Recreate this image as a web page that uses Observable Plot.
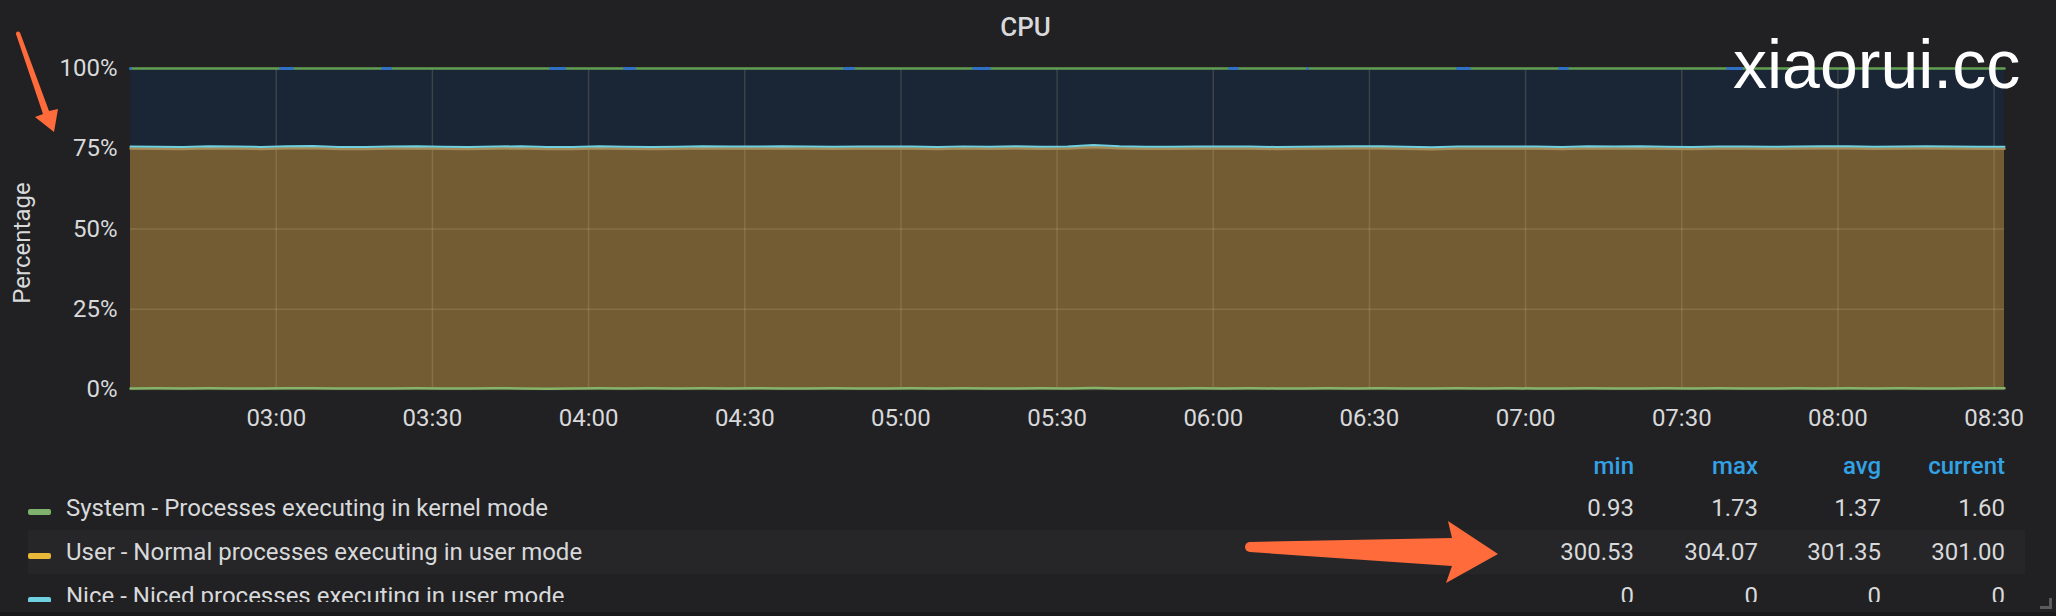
<!DOCTYPE html>
<html><head><meta charset="utf-8">
<script src="https://cdn.jsdelivr.net/npm/d3@7"></script>
<script src="https://cdn.jsdelivr.net/npm/@observablehq/plot@0.6"></script>
<style>
html,body{margin:0;padding:0;background:#212124;}
#page{position:relative;width:2056px;height:616px;overflow:hidden;background:#212124;font-family:Roboto,sans-serif;color:#d8d9da;}
#title{position:absolute;left:0;top:0;width:2051px;height:54px;line-height:54px;text-align:center;font-size:26px;font-weight:500;color:#d8d9da;}
#chart{position:absolute;left:0;top:0;}
#overlay{position:absolute;left:0;top:0;pointer-events:none;}
#legend{position:absolute;left:28px;top:444px;width:1997px;height:158px;overflow:hidden;font-size:24px;}
.row{position:relative;height:44px;line-height:44px;white-space:nowrap;}
.hdr{height:42px;line-height:44px;color:#33a2e5;font-weight:500;}
.alt{background:#262629;}
.sw{position:absolute;left:0;top:23px;width:23px;height:6px;border-radius:2px;}
.name{position:absolute;left:38px;top:0;}
.stat{position:absolute;top:0;text-align:right;}
#bottom{position:absolute;left:0;top:612px;width:2056px;height:4px;background:#18181a;}
#corner{position:absolute;left:2040px;top:598px;width:9px;height:8px;border-right:3px solid #5b5b5e;border-bottom:3px solid #5b5b5e;}
</style></head>
<body><div id="page">
<div id="chart"></div>
<div id="title"></div>
<div id="legend"></div>
<div id="corner"></div>
<div id="bottom"></div>
<svg id="overlay" width="2056" height="616"></svg>
</div>
<script>
// ---- data ----
const chartTitle = "CPU";
const yLabel = "Percentage";
const watermark = "xiaorui.cc";
const sampleStart = "02:32";   // first sample time
const sampleStepMinutes = 5;   // sampling interval
const domainStart = "02:32";
const domainEnd = "08:32";
const xTickLabels = ["03:00","03:30","04:00","04:30","05:00","05:30","06:00","06:30","07:00","07:30","08:00","08:30"];
const yTickValues = [0, 0.25, 0.5, 0.75, 1];

const seriesNames = ["System","User","Nice","Idle","Iowait"];

const systemRaw = [
1.35,1.42,1.28,1.51,1.37,1.19,1.44,1.62,1.30,1.25,
1.40,1.55,1.33,1.21,1.47,1.38,0.93,1.29,1.52,1.36,
1.41,1.27,1.58,1.34,1.45,1.31,1.22,1.49,1.39,1.26,
1.43,1.35,1.56,1.30,1.24,1.48,1.37,1.73,1.40,1.28,
1.33,1.46,1.21,1.52,1.38,1.27,1.44,1.35,1.60,1.29,
1.18,1.41,1.36,1.50,1.32,1.25,1.47,1.39,1.30,1.43,
1.34,1.55,1.28,1.37,1.42,1.20,1.46,1.33,1.51,1.38,
1.31,1.45,1.60];
const userRaw = [
301.4,301.2,300.9,301.6,301.3,301.1,301.5,301.8,301.0,300.8,
301.3,301.6,301.2,300.9,301.4,301.7,301.3,301.0,301.5,301.2,
300.7,301.1,301.6,301.4,301.2,301.8,301.5,301.0,301.3,301.6,
301.2,300.9,301.4,301.3,301.7,301.1,301.5,304.07,301.6,301.2,
301.0,301.4,301.7,301.3,300.9,301.2,301.5,301.8,301.4,301.1,
300.53,301.3,301.6,301.2,301.4,301.0,301.5,301.3,301.7,301.2,
300.9,301.4,301.6,301.1,301.3,301.8,301.5,301.0,301.2,301.6,
301.4,301.1,301.00];
const niceRaw = [
0,0,0,0,0,0,0,0,0,0, 0,0,0,0,0,0,0,0,0,0,
0,0,0,0,0,0,0,0,0,0, 0,0,0,0,0,0,0,0,0,0,
0,0,0,0,0,0,0,0,0,0, 0,0,0,0,0,0,0,0,0,0,
0,0,0,0,0,0,0,0,0,0, 0,0,0];
const idleRaw = [
97.2,97.3,97.7,96.9,97.3,97.6,97.0,96.6,97.6,97.9,
97.2,96.8,97.4,97.8,97.1,96.9,97.7,97.7,96.9,97.4,
97.8,97.6,96.8,97.2,97.3,96.8,97.2,97.5,97.3,97.1,
97.3,97.7,97.0,97.3,96.9,97.4,97.1,95.6,96.9,97.5,
97.6,97.1,97.0,97.3,97.7,97.5,97.0,96.8,97.0,97.6,
98.2,97.2,97.0,97.2,97.2,97.7,97.0,97.3,97.0,97.4,
97.7,97.0,97.1,97.5,97.2,97.0,97.0,97.6,97.2,97.0,
97.2,97.4,97.3];
const iowaitRaw = [
0.04,0.05,0.03,0.06,0.04,0.05,0.03,0.04,0.06,0.05,
0.04,0.03,0.05,0.04,0.06,0.05,0.04,0.03,0.05,0.04,
0.06,0.04,0.05,0.03,0.04,0.05,0.06,0.04,0.05,0.03,
0.04,0.05,0.04,0.06,0.03,0.05,0.04,0.05,0.04,0.06,
0.05,0.03,0.04,0.05,0.04,0.06,0.05,0.04,0.03,0.05,
0.04,0.06,0.05,0.04,0.03,0.05,0.04,0.06,0.04,0.05,
0.03,0.04,0.05,0.06,0.04,0.05,0.03,0.04,0.05,0.04,
0.06,0.05,0.04];

const legendNames = [
  "System - Processes executing in kernel mode",
  "User - Normal processes executing in user mode",
  "Nice - Niced processes executing in user mode"];
const legendColors = ["#7eb26d","#eab839","#6ed0e0"];
const statHeaders = ["min","max","avg","current"];
const statsSystem = ["0.93","1.73","1.37","1.60"];
const statsUser = ["300.53","304.07","301.35","301.00"];
const statsNice = ["0","0","0","0"];

// ---- build ----
const toDate = s => { const [h, m] = s.split(":").map(Number); return new Date(Date.UTC(2018, 0, 1, h, m)); };
const t0 = toDate(sampleStart);
const times = systemRaw.map((_, i) => new Date(+t0 + i * sampleStepMinutes * 60000));
const rawBySeries = {System: systemRaw, User: userRaw, Nice: niceRaw, Idle: idleRaw, Iowait: iowaitRaw};
const data = [];
for (const s of seriesNames) rawBySeries[s].forEach((v, i) => data.push({time: times[i], series: s, value: v}));

const areaFill = {System: "#5f7f48", User: "#735c34", Nice: "#4e8f99", Idle: "#1a2536", Iowait: "#1a2536"};
const lineStroke = {System: "#86b56a", User: "#a48d5a", Nice: "#6ed0e0", Idle: "#1f78c1", Iowait: "#629e51"};
const lineWidth = {System: 2.5, User: 2, Nice: 2, Idle: 2, Iowait: 2.5};
const lineShow = {System: 1, User: 0, Nice: 1, Idle: 0, Iowait: 1};

const stackOpts = {offset: "normalize", order: seriesNames};
const xTicks = xTickLabels.map(toDate);

const chart = Plot.plot({
  width: 2056, height: 440,
  marginLeft: 130, marginRight: 52, marginTop: 68, marginBottom: 51,
  style: {background: "none", color: "#d8d9da", fontFamily: "Roboto, sans-serif", fontSize: "24px"},
  x: {type: "utc", domain: [toDate(domainStart), toDate(domainEnd)]},
  y: {domain: [0, 1]},
  marks: [
    Plot.areaY(data, Plot.stackY({...stackOpts, x: "time", y: "value", z: "series", fill: d => areaFill[d.series]})),
    Plot.ruleX(xTicks, {stroke: "#d8c79a", strokeOpacity: 0.18, strokeWidth: 1.5}),
    Plot.ruleY(yTickValues, {stroke: "#d8c79a", strokeOpacity: 0.18, strokeWidth: 1.5}),
    Plot.lineY(data, Plot.stackY2({...stackOpts, x: "time", y: "value", z: "series", stroke: "#a48d5a", strokeWidth: 2.5, dy: 2,
      strokeOpacity: d => d.series === "User" ? 1 : 0})),
    Plot.lineY(data, Plot.stackY2({...stackOpts, x: "time", y: "value", z: "series",
      stroke: d => lineStroke[d.series], strokeWidth: d => lineWidth[d.series], strokeOpacity: d => lineShow[d.series]})),
    Plot.lineY(data, Plot.stackY2({...stackOpts, x: "time", y: "value", z: "series", stroke: "#2f6fc4", strokeWidth: 3,
      strokeDasharray: "0 150 12 90 8 160 14 60 10 210 9 120 16 240 8 70",
      strokeOpacity: d => d.series === "Idle" ? 1 : 0})),
    Plot.axisX(xTicks, {tickSize: 0, tickPadding: 19, tickFormat: d3.utcFormat("%H:%M"), label: null}),
    Plot.axisY(yTickValues, {tickSize: 0, tickPadding: 13, tickFormat: d => Math.round(d * 100) + "%", label: null}),
    Plot.text([yLabel], {text: d => d, frameAnchor: "left", rotate: -90, dx: -108, dy: 14,
      textAnchor: "middle", lineAnchor: "middle", fill: "#d8d9da", fontSize: 24})
  ]
});
document.getElementById("chart").append(chart);
document.getElementById("title").textContent = chartTitle;

// legend
const legend = document.getElementById("legend");
const statRight = [391, 267, 144, 20];
function addRow(cls, color, name, stats) {
  const row = document.createElement("div");
  row.className = "row " + cls;
  if (color) { const sw = document.createElement("div"); sw.className = "sw"; sw.style.background = color; row.append(sw); }
  if (name) { const n = document.createElement("div"); n.className = "name"; n.textContent = name; row.append(n); }
  stats.forEach((s, i) => {
    const e = document.createElement("div"); e.className = "stat"; e.style.right = statRight[i] + "px"; e.textContent = s; row.append(e);
  });
  legend.append(row);
}
addRow("hdr", null, null, statHeaders);
addRow("", legendColors[0], legendNames[0], statsSystem);
addRow("alt", legendColors[1], legendNames[1], statsUser);
addRow("", legendColors[2], legendNames[2], statsNice);

// overlay: watermark and annotation arrows
const ov = d3.select("#overlay");
ov.append("text").attr("x", 1733).attr("y", 88).attr("font-family", "Liberation Sans, Arial, sans-serif")
  .attr("font-size", 68).attr("fill", "#ffffff").text(watermark);
const arrowColor = "#ff6b3b";
ov.append("polygon").attr("fill", arrowColor)
  .attr("points", "16,34 20,32.5 49,111 58,109 54,132 35,117 43,114");
ov.append("circle").attr("cx", 18).attr("cy", 33.5).attr("r", 2).attr("fill", arrowColor);
ov.append("polygon").attr("fill", arrowColor)
  .attr("points", "1250,542 1452,538 1448,521 1498,554 1446,583 1452,566 1250,552");
ov.append("circle").attr("cx", 1250).attr("cy", 547).attr("r", 5).attr("fill", arrowColor);
</script>
</body></html>
